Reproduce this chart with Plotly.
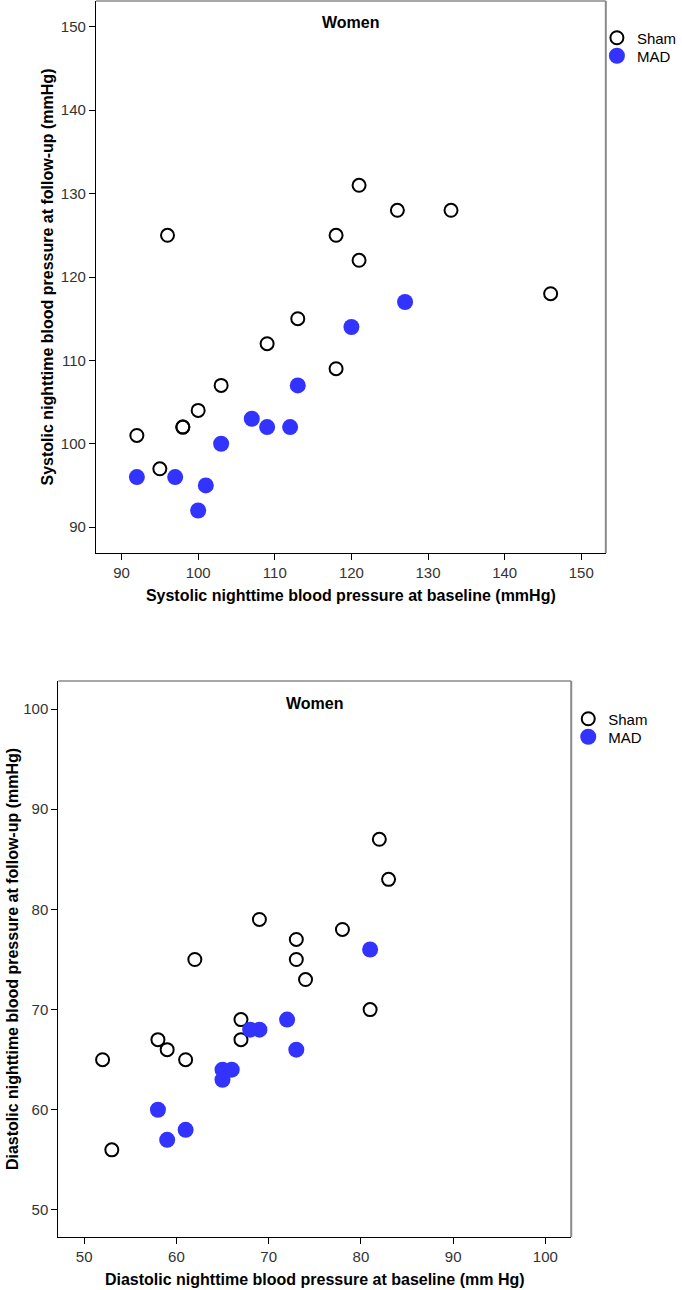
import plotly.graph_objects as go

# ---- Data: top panel (systolic) ----
sys_sham_base = [92, 95, 98, 98, 100, 103, 96, 109, 113, 118, 118, 121, 121, 126, 133, 146]
sys_sham_follow = [101, 97, 102, 102, 104, 107, 125, 112, 115, 109, 125, 131, 122, 128, 128, 118]
sys_mad_base = [92, 97, 100, 101, 103, 107, 109, 112, 113, 120, 127]
sys_mad_follow = [96, 96, 92, 95, 100, 103, 102, 102, 107, 114, 117]

# ---- Data: bottom panel (diastolic) ----
dia_sham_base = [53, 52, 58, 59, 61, 62, 67, 67, 69, 73, 73, 74, 78, 81, 82, 83]
dia_sham_follow = [56, 65, 67, 66, 65, 75, 69, 67, 79, 77, 75, 73, 78, 70, 87, 83]
dia_mad_base = [58, 59, 61, 65, 65, 66, 68, 69, 72, 73, 81]
dia_mad_follow = [60, 57, 58, 64, 63, 64, 68, 68, 69, 66, 76]

sys_ticks = [90, 100, 110, 120, 130, 140, 150]
dia_ticks = [50, 60, 70, 80, 90, 100]

W, H = 682, 1290
FONT = "Liberation Sans, Arial, sans-serif"
BLUE = "#3333ff"


def px_x(p):
    return p / W


def px_y(p):
    return 1 - p / H


open_marker = dict(symbol="circle-open", size=13, color="black",
                   line=dict(width=2, color="black"))
fill_marker = dict(symbol="circle", size=16, color=BLUE,
                   line=dict(width=0))

fig = go.Figure()
fig.add_trace(go.Scatter(x=sys_sham_base, y=sys_sham_follow, mode="markers",
                         name="Sham", marker=open_marker, xaxis="x", yaxis="y",
                         legend="legend"))
fig.add_trace(go.Scatter(x=sys_mad_base, y=sys_mad_follow, mode="markers",
                         name="MAD", marker=fill_marker, xaxis="x", yaxis="y",
                         legend="legend2"))
fig.add_trace(go.Scatter(x=dia_sham_base, y=dia_sham_follow, mode="markers",
                         name="Sham", marker=open_marker, xaxis="x2", yaxis="y2",
                         legend="legend3"))
fig.add_trace(go.Scatter(x=dia_mad_base, y=dia_mad_follow, mode="markers",
                         name="MAD", marker=fill_marker, xaxis="x2", yaxis="y2",
                         legend="legend4"))

tickfont = dict(family=FONT, size=15, color="#333333")
titlefont = dict(family=FONT, size=16, color="black", weight="bold")

common = dict(showgrid=False, zeroline=False, showline=True, linecolor="black",
              linewidth=1, ticks="outside", ticklen=6, tickcolor="black",
              tickfont=tickfont, automargin=False)


def leg(xsym, ycen):
    return dict(x=px_x(xsym - 20), y=px_y(ycen), xanchor="left", yanchor="middle",
                font=dict(family=FONT, size=15, color="black"),
                bgcolor="rgba(0,0,0,0)", borderwidth=0)


fig.update_layout(
    width=W, height=H,
    margin=dict(l=0, r=0, t=0, b=0),
    paper_bgcolor="white", plot_bgcolor="white",
    font=dict(family=FONT),
    showlegend=True,
    xaxis=dict(domain=[px_x(97), px_x(613)], range=[86.65, 153.2],
               tickvals=sys_ticks, anchor="y",
               title=dict(text="Systolic nighttime blood pressure at baseline (mmHg)",
                          font=titlefont, standoff=9), **common),
    yaxis=dict(domain=[px_y(553), px_y(1)], range=[86.9, 153.1],
               tickvals=sys_ticks, anchor="x",
               title=dict(text="Systolic nighttime blood pressure at follow-up (mmHg)",
                          font=titlefont, standoff=3), **common),
    xaxis2=dict(domain=[px_x(59), px_x(578)], range=[47.2, 102.8],
                tickvals=dia_ticks, anchor="y2",
                title=dict(text="Diastolic nighttime blood pressure at baseline (mm Hg)",
                           font=titlefont, standoff=9), **common),
    yaxis2=dict(domain=[px_y(1237), px_y(681)], range=[47.3, 102.8],
                tickvals=dia_ticks, anchor="x2",
                title=dict(text="Diastolic nighttime blood pressure at follow-up (mmHg)",
                           font=titlefont, standoff=0), **common),
    legend=leg(624, 38),
    legend2=leg(624, 56),
    legend3=leg(595, 719),
    legend4=leg(595, 737),
)

shapes = []
for xr, yr in (("x domain", "y domain"), ("x2 domain", "y2 domain")):
    shapes.append(dict(type="line", xref=xr, yref=yr, x0=0, x1=1, y0=1, y1=1,
                       line=dict(color="#8a8a8a", width=1.5)))
    shapes.append(dict(type="line", xref=xr, yref=yr, x0=1, x1=1, y0=0, y1=1,
                       line=dict(color="#8a8a8a", width=2)))
fig.update_layout(shapes=shapes)

for xr, yr in (("x domain", "y domain"), ("x2 domain", "y2 domain")):
    fig.add_annotation(text="<b>Women</b>", xref=xr, yref=yr, x=0.5, y=1,
                       xanchor="center", yanchor="middle", yshift=-22,
                       showarrow=False, font=dict(family=FONT, size=16, color="black"))

# remove the browser's default 8px body margin so the figure sits at (0, 0)
fig.write_html("out.html", config={"displayModeBar": False},
               post_script="document.body.style.margin='0px';")
